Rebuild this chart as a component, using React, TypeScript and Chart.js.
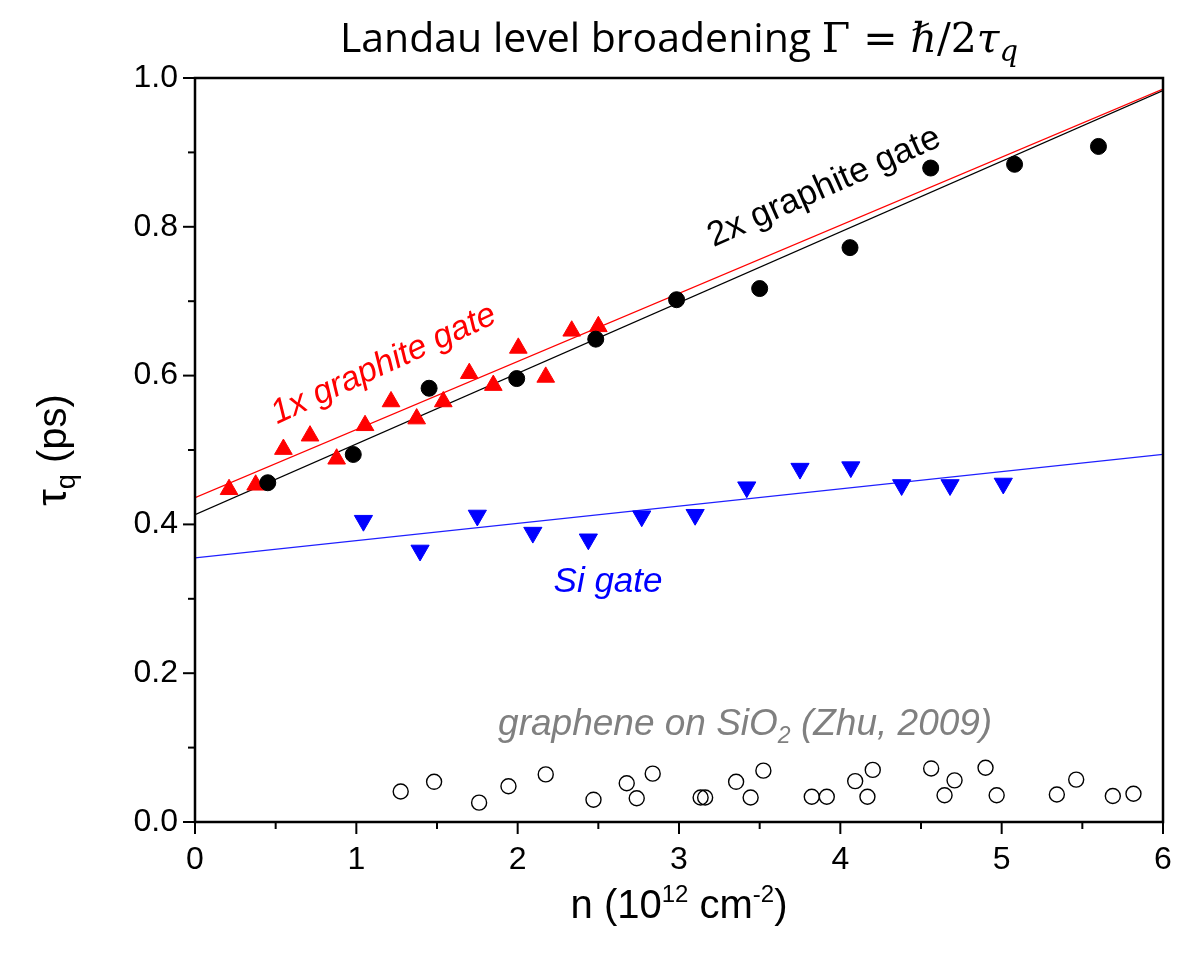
import React, { useEffect, useRef } from "react";
import { Chart, registerables } from "chart.js";
Chart.register(...registerables);

// ---------- data ----------
const xTickValues = [0, 1, 2, 3, 4, 5, 6];
const yTickValues = [0, 0.2, 0.4, 0.6, 0.8, 1.0];

const oneXGraphiteN = [0.211, 0.376, 0.548, 0.713, 0.878, 1.054, 1.215, 1.374, 1.539, 1.7, 1.849, 2.004, 2.174, 2.335, 2.5];
const oneXGraphiteTau = [0.447, 0.453, 0.501, 0.519, 0.488, 0.533, 0.565, 0.542, 0.565, 0.603, 0.587, 0.637, 0.598, 0.66, 0.666];

const twoXGraphiteN = [0.451, 0.981, 1.451, 1.994, 2.484, 2.985, 3.5, 4.06, 4.56, 5.08, 5.6];
const twoXGraphiteTau = [0.456, 0.494, 0.583, 0.596, 0.649, 0.702, 0.717, 0.772, 0.879, 0.884, 0.908];

const siGateN = [1.044, 1.395, 1.75, 2.094, 2.438, 2.769, 3.1, 3.42, 3.75, 4.065, 4.38, 4.68, 5.01];
const siGateTau = [0.405, 0.365, 0.412, 0.389, 0.38, 0.411, 0.413, 0.45, 0.475, 0.477, 0.453, 0.453, 0.455];

const zhuN = [1.275, 1.482, 1.761, 1.943, 2.174, 2.47, 2.676, 2.738, 2.837, 3.134, 3.162, 3.354, 3.444, 3.523, 3.823, 3.916, 4.092, 4.168, 4.201, 4.563, 4.646, 4.708, 4.9, 4.969, 5.342, 5.462, 5.689, 5.817];
const zhuTau = [0.041, 0.054, 0.026, 0.048, 0.064, 0.03, 0.052, 0.032, 0.065, 0.033, 0.033, 0.054, 0.033, 0.069, 0.034, 0.034, 0.055, 0.034, 0.07, 0.072, 0.036, 0.056, 0.073, 0.036, 0.037, 0.057, 0.035, 0.038];

// linear fits (end points at n = 0 and n = 6)
const fitN = [0, 6];
const oneXFitTau = [0.436, 0.985];
const twoXFitTau = [0.413, 0.983];
const siFitTau = [0.355, 0.494];

// ---------- fonts ----------
const SANS = "'Liberation Sans', Arial, sans-serif";
const TITLE_SANS = "'Open Sans', 'Noto Sans', sans-serif";
const MATH = "'DejaVu Serif', serif";

type Part = { text: string; font: string; dy?: number };

function drawRich(ctx: CanvasRenderingContext2D, parts: Part[], cx: number, cy: number, color: string) {
  let total = 0;
  const widths = parts.map((p) => {
    ctx.font = p.font;
    const w = ctx.measureText(p.text).width;
    total += w;
    return w;
  });
  let x = cx - total / 2;
  ctx.fillStyle = color;
  ctx.textAlign = "left";
  ctx.textBaseline = "alphabetic";
  parts.forEach((p, i) => {
    ctx.font = p.font;
    ctx.fillText(p.text, x, cy + (p.dy || 0));
    x += widths[i];
  });
}

export default function App() {
  const ref = useRef<HTMLCanvasElement>(null);

  useEffect(() => {
    const canvas = ref.current;
    if (!canvas) return;
    const pts = (xs: number[], ys: number[]) => xs.map((x, i) => ({ x, y: ys[i] }));

    const decor = {
      id: "decor",
      afterDraw(chart: any) {
        const { ctx, chartArea: a } = chart;
        const xs = chart.scales.x;
        const ys = chart.scales.y;
        ctx.save();
        // frame
        ctx.strokeStyle = "#000";
        ctx.lineWidth = 2.5;
        ctx.strokeRect(a.left, a.top, a.right - a.left, a.bottom - a.top);
        // ticks
        ctx.lineWidth = 2;
        for (let i = 0; i <= 12; i++) {
          const v = i * 0.5;
          const px = xs.getPixelForValue(v);
          const len = i % 2 === 0 ? 12 : 7;
          ctx.beginPath();
          ctx.moveTo(px, a.bottom);
          ctx.lineTo(px, a.bottom + len);
          ctx.stroke();
        }
        for (let i = 0; i <= 10; i++) {
          const v = i * 0.1;
          const py = ys.getPixelForValue(v);
          const len = i % 2 === 0 ? 12 : 7;
          ctx.beginPath();
          ctx.moveTo(a.left, py);
          ctx.lineTo(a.left - len, py);
          ctx.stroke();
        }

        // title
        const T = 41;
        drawRich(
          ctx,
          [
            { text: "Landau level broadening ", font: `${T}px ${TITLE_SANS}` },
            { text: "Γ", font: `${T}px ${MATH}` },
            { text: " = ", font: `${T}px ${MATH}` },
            { text: "ℏ", font: `italic ${T}px ${MATH}` },
            { text: "/2", font: `${T}px ${MATH}` },
            { text: "τ", font: `italic ${T}px ${MATH}` },
            { text: "q", font: `italic ${Math.round(T * 0.7)}px ${MATH}`, dy: 9 },
          ],
          (a.left + a.right) / 2,
          52,
          "#000"
        );

        // x title
        drawRich(
          ctx,
          [
            { text: "n (10", font: `40px ${SANS}` },
            { text: "12", font: `24px ${SANS}`, dy: -16 },
            { text: " cm", font: `40px ${SANS}` },
            { text: "-2", font: `24px ${SANS}`, dy: -16 },
            { text: ")", font: `40px ${SANS}` },
          ],
          (a.left + a.right) / 2,
          918,
          "#000"
        );

        // y title
        ctx.save();
        ctx.translate(66, (a.top + a.bottom) / 2);
        ctx.rotate(-Math.PI / 2);
        drawRich(
          ctx,
          [
            { text: "τ", font: `42px ${SANS}` },
            { text: "q", font: `27px ${SANS}`, dy: 9 },
            { text: " (ps)", font: `40px ${SANS}` },
          ],
          0,
          0,
          "#000"
        );
        ctx.restore();

        // annotations
        const note = (text: string, vx: number, vy: number, angle: number, font: string, color: string) => {
          ctx.save();
          ctx.translate(xs.getPixelForValue(vx), ys.getPixelForValue(vy));
          ctx.rotate((angle * Math.PI) / 180);
          ctx.font = font;
          ctx.fillStyle = color;
          ctx.textAlign = "center";
          ctx.textBaseline = "middle";
          ctx.fillText(text, 0, 0);
          ctx.restore();
        };
        note("1x graphite gate", 1.17, 0.615, -24.8, `italic 34px ${SANS}`, "#ff0000");
        note("2x graphite gate", 3.9, 0.853, -24, `35px ${SANS}`, "#000");
        note("Si gate", 2.56, 0.322, 0, `italic 35px ${SANS}`, "#0000ff");

        drawRich(
          ctx,
          [
            { text: "graphene on SiO", font: `italic 37px ${SANS}` },
            { text: "2", font: `italic 23px ${SANS}`, dy: 8 },
            { text: " (Zhu, 2009)", font: `italic 37px ${SANS}` },
          ],
          xs.getPixelForValue(3.41),
          ys.getPixelForValue(0.134) + 13,
          "#808080"
        );
        ctx.restore();
      },
    };

    const lineDs = (data: any, color: string) => ({
      type: "line" as const,
      data,
      borderColor: color,
      borderWidth: 1.3,
      pointRadius: 0,
      showLine: true,
      fill: false,
      order: 10,
    });

    const chart = new Chart(canvas, {
      type: "scatter",
      data: {
        datasets: [
          lineDs(pts(fitN, siFitTau), "#1f1fff"),
          lineDs(pts(fitN, twoXFitTau), "#000000"),
          lineDs(pts(fitN, oneXFitTau), "#ff0000"),
          {
            data: pts(zhuN, zhuTau),
            pointStyle: "circle",
            pointRadius: 7.5,
            backgroundColor: "rgba(255,255,255,0)",
            borderColor: "#000",
            borderWidth: 1.4,
            order: 4,
          },
          {
            data: pts(siGateN, siGateTau),
            pointStyle: "triangle",
            pointRotation: 180,
            pointRadius: 10.5,
            backgroundColor: "#0000ff",
            borderColor: "#0000ff",
            borderWidth: 1,
            order: 3,
          },
          {
            data: pts(oneXGraphiteN, oneXGraphiteTau),
            pointStyle: "triangle",
            pointRadius: 10.2,
            backgroundColor: "#ff0000",
            borderColor: "#ff0000",
            borderWidth: 1,
            order: 2,
          },
          {
            data: pts(twoXGraphiteN, twoXGraphiteTau),
            pointStyle: "circle",
            pointRadius: 8,
            backgroundColor: "#000",
            borderColor: "#000",
            borderWidth: 1,
            order: 1,
          },
        ] as any,
      },
      options: {
        animation: false,
        responsive: false,
        maintainAspectRatio: false,
        layout: { padding: { left: 0, top: 78, right: 31, bottom: 0 } },
        plugins: { legend: { display: false }, tooltip: { enabled: false } },
        scales: {
          x: {
            type: "linear",
            min: 0,
            max: 6,
            grid: { display: false, drawTicks: false },
            border: { display: false },
            afterBuildTicks: (s: any) => {
              s.ticks = xTickValues.map((v) => ({ value: v }));
            },
            ticks: {
              color: "#000",
              font: { family: SANS, size: 32 },
              padding: 19,
              maxRotation: 0,
              callback: (v: any) => String(v),
            },
            afterFit: (s: any) => {
              s.height = 132;
            },
          },
          y: {
            type: "linear",
            min: 0,
            max: 1,
            grid: { display: false, drawTicks: false },
            border: { display: false },
            afterBuildTicks: (s: any) => {
              s.ticks = yTickValues.map((v) => ({ value: v }));
            },
            ticks: {
              color: "#000",
              font: { family: SANS, size: 32 },
              padding: 17,
              callback: (v: any) => Number(v).toFixed(1),
            },
            afterFit: (s: any) => {
              s.width = 195;
            },
          },
        },
      } as any,
      plugins: [decor],
    });
    return () => chart.destroy();
  }, []);

  return (
    <div style={{ position: "absolute", left: 0, top: 0, width: 1194, height: 954, background: "#fff" }}>
      <canvas ref={ref} width={1194} height={954} style={{ display: "block" }} />
    </div>
  );
}
